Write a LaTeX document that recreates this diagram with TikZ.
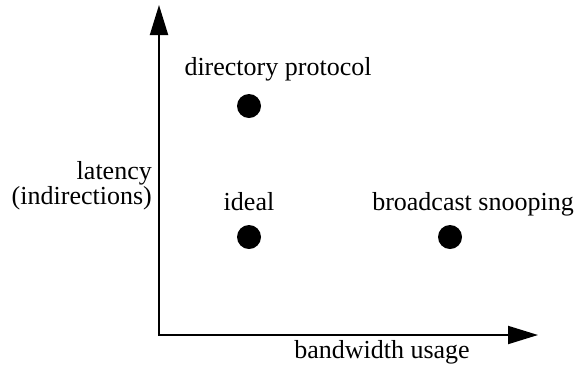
\documentclass[tikz,border=0pt]{standalone}
\usepackage{fontspec}
\setmainfont{Liberation Serif}
\usetikzlibrary{arrows.meta,positioning}

\begin{document}
\begin{tikzpicture}[
    x=1bp, y=-1bp,
    axis/.style={line width=2bp, -{Triangle[length=30bp, width=18bp]}},
    dot/.style={circle, fill=black, inner sep=0pt, minimum size=24bp},
    lbl/.style={font=\fontsize{26bp}{23bp}\selectfont, inner sep=0pt, anchor=base}
]
\useasboundingbox (0,0) rectangle (581,369);

% Axes
\coordinate (origin) at (159,335);
\coordinate (ytop) at (159,5);
\coordinate (xend) at (538,335);
\draw[axis] (origin) -- (ytop);
\draw[axis] ([xshift=-1bp]origin) -- (xend);

% Points
\node[dot] (dir) at (249,106) {};
\node[dot] (ideal) at (249,237) {};
\node[dot] (bcast) at (450,237) {};

% Labels
\node[lbl] (dirlbl) at (278,75) {directory protocol};
\node[lbl] (ideallbl) at (249,210) {ideal};
\node[lbl] (bcastlbl) at (473,210) {broadcast snooping};
\node[lbl] (xlbl) at (382,358) {bandwidth usage};
\node[lbl, anchor=east, align=right] (ylbl) at (152,186) {latency\\(indirections)};
\end{tikzpicture}
\end{document}
